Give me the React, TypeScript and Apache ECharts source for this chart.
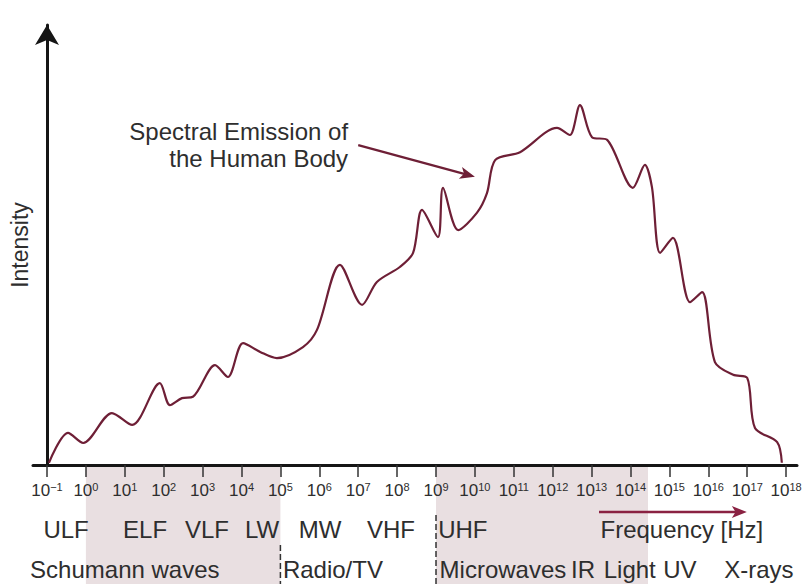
import React, { useEffect, useRef } from 'react';
import * as echarts from 'echarts';

// log10 of frequency [Hz] and relative intensity (0..100)
const logFreq = [-0.95, -0.46, -0.07, 0.67, 1.19, 1.9, 2.16, 2.47, 2.75, 3.32, 3.65, 4.04, 4.48, 4.91, 5.58, 5.94, 6.53, 7.1, 7.48, 8.07, 8.41, 8.64, 9.05, 9.18, 9.57, 10.05, 10.31, 10.52, 11.16, 12.11, 12.44, 12.7, 13.01, 13.4, 14.06, 14.37, 14.55, 14.76, 15.09, 15.53, 15.84, 16.17, 16.64, 17.0, 17.2, 17.77, 17.89];
const intensity = [0.5, 7.3, 5.0, 11.8, 9.1, 18.6, 13.6, 15.2, 15.5, 22.7, 20.0, 27.7, 25.7, 24.3, 26.8, 30.7, 45.5, 36.4, 41.6, 45.0, 48.2, 58.0, 51.8, 63.0, 53.4, 57.3, 61.8, 69.3, 71.1, 76.6, 75.0, 81.8, 74.5, 73.9, 63.0, 68.2, 63.2, 48.2, 51.6, 37.0, 39.3, 23.4, 20.5, 19.8, 8.4, 5.2, 0.5];

// tick exponents (10^n)
const tickExponents = [-1, 0, 1, 2, 3, 4, 5, 6, 7, 8, 9, 10, 11, 12, 13, 14, 15, 16, 17, 18];

// band names and their centres in log10(Hz)
const bandNames = ['ULF', 'ELF', 'VLF', 'LW', 'MW', 'VHF', 'UHF'];
const bandCentres = [-0.51, 1.52, 3.11, 4.53, 6.02, 7.84, 9.69];
const regionNames = ['Schumann waves', 'Radio/TV', 'Microwaves', 'IR', 'Light', 'UV', 'X-rays'];
const regionCentres = [1.0, 6.35, 10.72, 12.78, 13.98, 15.27, 17.3];
// shaded ranges in log10(Hz)
const shadedRanges = [[0, 5], [9, 14.45]];
const dividerAt = [5, 9];

const annotationLines = ['Spectral Emission of', 'the Human Body'];
const axisName = 'Intensity';
const freqLabel = 'Frequency [Hz]';

const FONT = '"Liberation Sans", Arial, Helvetica, sans-serif';
const TEXT = '#2e2e2e';
const MAROON = '#6e1f36';

const sup = (n: number) => (n < 0 ? '\u2212' + String(-n) : String(n));

export default function App() {
  const ref = useRef<HTMLDivElement>(null);

  useEffect(() => {
    document.body.style.margin = '0';
    if (!ref.current) return;
    const chart = echarts.init(ref.current, null, { renderer: 'svg' });
    const shift = 1; // x-axis value = log10(f) + 1, so that 10^-1 sits at zero
    const option: any = {
      animation: false,
      backgroundColor: '#ffffff',
      grid: { left: 33, right: 7, top: 25, bottom: 119, containLabel: false, outerBoundsMode: 'none' },
      xAxis: {
        type: 'value',
        min: -0.36,
        max: 19.28,
        axisLine: { show: true, onZero: true, lineStyle: { color: '#151515', width: 3 } },
        axisTick: {
          show: true,
          length: 12,
          customValues: tickExponents.map((e) => e + shift),
          lineStyle: { color: '#333', width: 1.5 },
        },
        axisLabel: {
          show: true,
          margin: 16,
          hideOverlap: false,
          customValues: tickExponents.map((e) => e + shift),
          formatter: (v: number) => '{b|10}{s|' + sup(Math.round(v - shift)) + '}',
          rich: {
            b: { fontSize: 17, fontFamily: FONT, color: TEXT, lineHeight: 19 },
            s: { fontSize: 11, fontFamily: FONT, color: TEXT, verticalAlign: 'top', lineHeight: 12 },
          },
        },
        splitLine: { show: false },
      },
      yAxis: {
        type: 'value',
        min: 0,
        max: 100,
        name: axisName,
        nameLocation: 'middle',
        nameRotate: 90,
        nameGap: 2,
        nameTextStyle: { fontSize: 23, fontFamily: FONT, color: TEXT },
        axisLine: {
          show: true,
          onZero: true,
          lineStyle: { color: '#151515', width: 3 },
          symbol: ['none', 'arrow'],
          symbolSize: [18, 20],
        },
        axisTick: { show: false },
        axisLabel: { show: false },
        splitLine: { show: false },
      },
      series: [
        {
          type: 'line',
          data: logFreq.map((x, i) => [x + shift, intensity[i]]),
          smooth: 0.3,
          showSymbol: false,
          lineStyle: { color: MAROON, width: 2.2 },
          z: 3,
        },
      ],
    };
    chart.setOption(option);

    const px = (v: number) => chart.convertToPixel({ xAxisIndex: 0 }, v + shift) as number;
    const py = (v: number) => chart.convertToPixel({ yAxisIndex: 0 }, v) as number;
    const axisY = py(0);
    const H = 584;

    const arrowHead = (x1: number, y1: number, x2: number, y2: number, len: number, half: number) => {
      const dx = x2 - x1;
      const dy = y2 - y1;
      const d = Math.sqrt(dx * dx + dy * dy);
      const ux = dx / d;
      const uy = dy / d;
      const bx = x2 - ux * len;
      const by = y2 - uy * len;
      return [
        [x2, y2],
        [bx - uy * half, by + ux * half],
        [bx + ux * len * 0.25, by + uy * len * 0.25],
        [bx + uy * half, by - ux * half],
      ];
    };

    const graphics: any[] = [];
    shadedRanges.forEach(([a, b]) => {
      graphics.push({
        type: 'rect',
        z: -1,
        shape: { x: px(a), y: axisY + 1, width: px(b) - px(a), height: H - axisY },
        style: { fill: '#e9dfe1' },
      });
    });
    const dividerTops = [545, 515];
    dividerAt.forEach((v, i) => {
      graphics.push({
        type: 'line',
        z: 5,
        shape: { x1: px(v), y1: dividerTops[i], x2: px(v), y2: H },
        style: { stroke: '#333', lineWidth: 1.5, lineDash: [6, 3] },
      });
    });
    bandNames.forEach((t, i) => {
      graphics.push({
        type: 'text',
        z: 5,
        x: px(bandCentres[i]),
        y: 529,
        style: { text: t, fill: TEXT, font: '24px ' + FONT, textAlign: 'center', textVerticalAlign: 'middle' },
      });
    });
    regionNames.forEach((t, i) => {
      graphics.push({
        type: 'text',
        z: 5,
        x: px(regionCentres[i]),
        y: 569,
        style: { text: t, fill: TEXT, font: '24px ' + FONT, textAlign: 'center', textVerticalAlign: 'middle' },
      });
    });
    // Frequency label and arrow
    graphics.push({
      type: 'text',
      z: 5,
      x: px(15.32),
      y: 529,
      style: { text: freqLabel, fill: TEXT, font: '24px ' + FONT, textAlign: 'center', textVerticalAlign: 'middle' },
    });
    const fx1 = px(13.19);
    const fx2 = px(16.99);
    const fy = 512;
    graphics.push({
      type: 'line',
      z: 6,
      shape: { x1: fx1, y1: fy, x2: fx2 - 8, y2: fy },
      style: { stroke: '#8a2242', lineWidth: 2.5 },
    });
    graphics.push({
      type: 'polygon',
      z: 6,
      shape: { points: arrowHead(fx1, fy, fx2, fy, 15, 6) },
      style: { fill: '#8a2242' },
    });
    // annotation
    const tx = px(6.74);
    annotationLines.forEach((t, i) => {
      graphics.push({
        type: 'text',
        z: 5,
        x: tx,
        y: py(i === 0 ? 75.7 : 69.6),
        style: { text: t, fill: TEXT, font: '24px ' + FONT, textAlign: 'right', textVerticalAlign: 'middle' },
      });
    });
    const ax1 = px(7.0);
    const ay1 = py(72.7);
    const ax2 = px(10.0);
    const ay2 = py(65.5);
    graphics.push({
      type: 'line',
      z: 6,
      shape: { x1: ax1, y1: ay1, x2: ax2 - 8, y2: ay2 - 8 * ((ay2 - ay1) / (ax2 - ax1)) },
      style: { stroke: MAROON, lineWidth: 2.2 },
    });
    graphics.push({
      type: 'polygon',
      z: 6,
      shape: { points: arrowHead(ax1, ay1, ax2, ay2, 15, 6) },
      style: { fill: MAROON },
    });

    chart.setOption({ graphic: graphics });

    return () => chart.dispose();
  }, []);

  return <div ref={ref} style={{ width: 804, height: 584 }} />;
}
